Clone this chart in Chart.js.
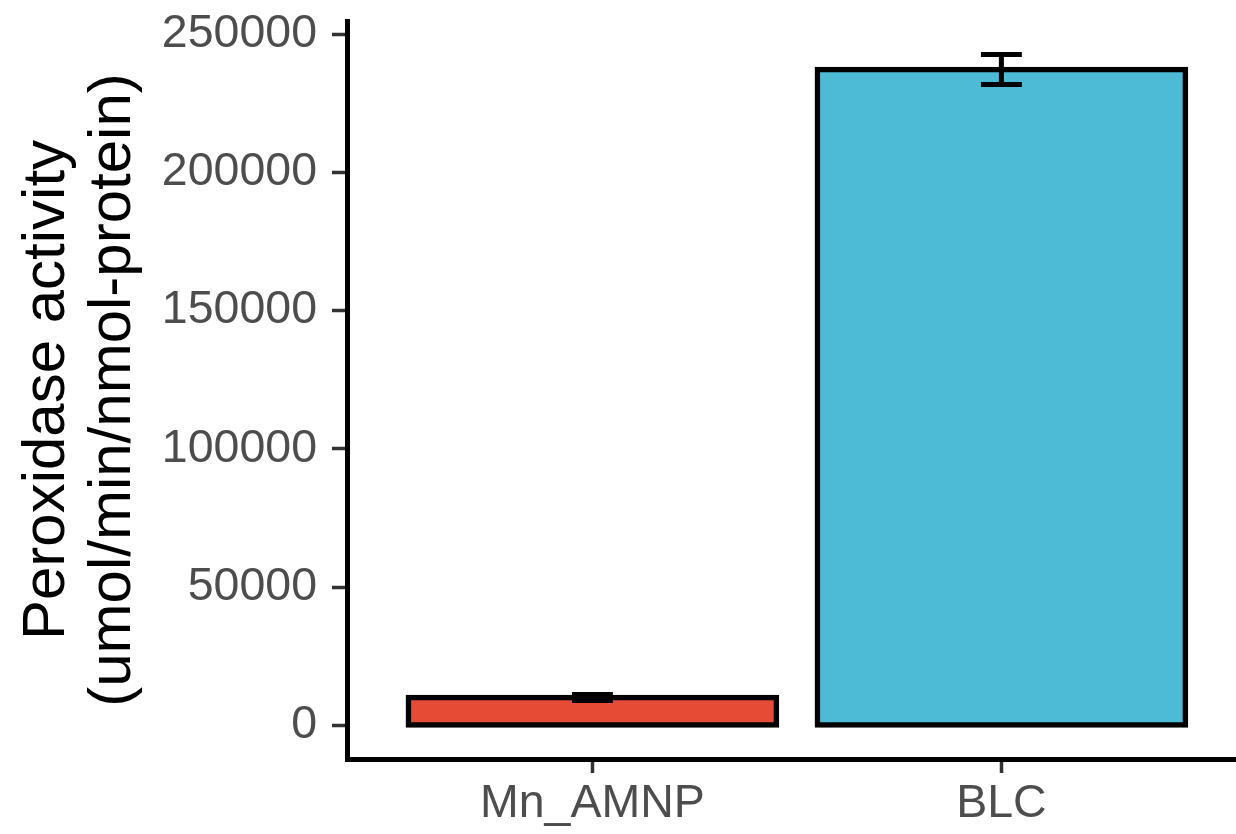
<!DOCTYPE html>
<html>
<head>
<meta charset="utf-8">
<script src="https://cdn.jsdelivr.net/npm/chart.js@4/dist/chart.umd.min.js"></script>
<style>
  html, body { margin: 0; padding: 0; background: #ffffff; overflow: hidden; }
  #wrap { width: 1236px; height: 834px; }
</style>
</head>
<body>
<div id="wrap"><canvas id="c" width="1236" height="834"></canvas></div>
<script>
// ---- data ----
const categories = ['Mn_AMNP', 'BLC'];
const means = [10100, 237200];
const sds = [1100, 5400];
const barColors = ['#E64B35', '#4DBBD5'];
const yTickValues = [0, 50000, 100000, 150000, 200000, 250000];
const yTitle = ['Peroxidase activity', '(umol/min/nmol-protein)'];

// ---- style constants ----
const FONT = "'Liberation Sans', Arial, Helvetica, sans-serif";
const ERR_WIDTH = 0.1; // errorbar cap width in category units

// ggplot-like axis expansion
const yUpper = Math.max(...means.map((m, i) => m + sds[i]));
const yMin = -0.05 * yUpper;
const yMax = 1.05 * yUpper;

const errorBars = {
  id: 'errorBars',
  afterDatasetsDraw(chart) {
    const { ctx, scales: { x, y } } = chart;
    ctx.save();
    ctx.strokeStyle = '#000000';
    ctx.lineWidth = 5;
    ctx.lineCap = 'butt';
    categories.forEach((c, i) => {
      const px = x.getPixelForValue(i + 1);
      const half = x.getPixelForValue(i + 1 + ERR_WIDTH / 2) - px;
      const top = y.getPixelForValue(means[i] + sds[i]);
      const bot = y.getPixelForValue(means[i] - sds[i]);
      ctx.beginPath();
      ctx.moveTo(px, top); ctx.lineTo(px, bot);
      ctx.moveTo(px - half, top); ctx.lineTo(px + half, top);
      ctx.moveTo(px - half, bot); ctx.lineTo(px + half, bot);
      ctx.stroke();
    });
    ctx.restore();
  }
};

new Chart(document.getElementById('c'), {
  type: 'bar',
  data: {
    datasets: [{
      data: categories.map((c, i) => ({ x: i + 1, y: means[i] })),
      backgroundColor: barColors,
      borderColor: '#000000',
      borderWidth: 5.5,
      borderSkipped: false,
      inflateAmount: 2.75,
      barPercentage: 0.9,
      categoryPercentage: 1.0
    }]
  },
  plugins: [errorBars],
  options: {
    responsive: false,
    animation: false,
    events: [],
    layout: { padding: { left: 0, right: 0, top: 21, bottom: 0 } },
    plugins: { legend: { display: false }, tooltip: { enabled: false }, title: { display: false } },
    scales: {
      x: {
        type: 'linear',
        min: 0.4,
        max: 2.5736,
        offset: false,
        afterBuildTicks: (s) => { s.ticks = categories.map((c, i) => ({ value: i + 1 })); },
        afterFit: (s) => { s.height = 75; s.paddingLeft = 0; s.paddingRight = 0; },
        border: { display: true, color: '#000000', width: 5 },
        grid: { display: true, drawOnChartArea: false, drawTicks: true, tickLength: 14, tickColor: '#333333', tickWidth: 3.5, offset: false },
        ticks: {
          color: '#4D4D4D',
          font: { family: FONT, size: 46.5 },
          padding: 3,
          maxRotation: 0,
          autoSkip: false,
          callback: (v) => categories[Math.round(v) - 1] || ''
        }
      },
      y: {
        type: 'linear',
        min: yMin,
        max: yMax,
        afterBuildTicks: (s) => { s.ticks = yTickValues.map(v => ({ value: v })); },
        afterFit: (s) => { s.width = 347; s.paddingTop = 0; s.paddingBottom = 0; },
        border: { display: true, color: '#000000', width: 5 },
        grid: { display: true, drawOnChartArea: false, drawTicks: true, tickLength: 15, tickColor: '#333333', tickWidth: 3.5 },
        ticks: {
          color: '#4D4D4D',
          font: { family: FONT, size: 46.5 },
          padding: 15,
          autoSkip: false,
          callback: (v) => String(v)
        },
        title: {
          display: true,
          text: yTitle,
          color: '#000000',
          font: { family: FONT, size: 60, lineHeight: 1.1 },
          padding: { top: 14, bottom: 0 }
        }
      }
    }
  }
});
</script>
</body>
</html>
